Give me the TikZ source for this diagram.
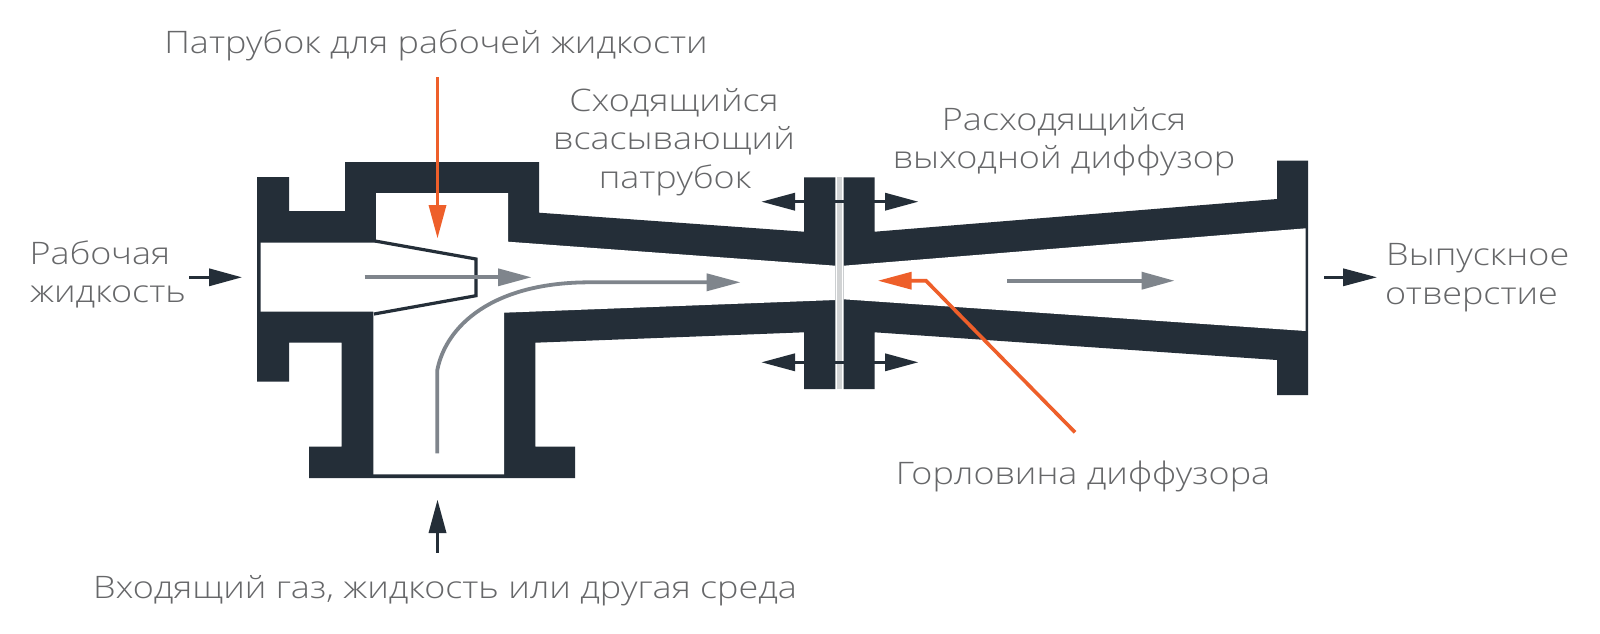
\documentclass[tikz,border=0pt]{standalone}
\usepackage{fontspec}
\setmainfont{Open Sans Light}[FakeStretch=1.16]
\definecolor{bodydark}{HTML}{242E38}
\definecolor{flowgray}{HTML}{7F858C}
\definecolor{accent}{HTML}{EE5F2A}
\definecolor{strip}{HTML}{D1D3D4}
\definecolor{labelgray}{HTML}{666769}
\tikzset{
  body/.style={fill=bodydark,draw=none},
  cavity/.style={fill=white,draw=none},
  lbl/.style={text=labelgray,inner sep=0pt,font=\fontsize{31}{38.5}\selectfont},
  flowline/.style={line width=#1,line cap=butt,line join=miter}
}
\newcommand{\arrowR}[5]{% x0,xbase,xtip,y,line width ; colour set by scope
  \draw[line width=#5] (#1,#4) -- (#2+1,#4);
  \fill (#2,#4-9) -- (#3,#4) -- (#2,#4+9) -- cycle;
}
\begin{document}
\begin{tikzpicture}[x=1pt,y=-1pt]
\useasboundingbox (0,0) rectangle (1600,633);
\fill[white] (0,0) rectangle (1600,633);

% left casing
\path[body] (257,177) -- (289,177) -- (289,211) -- (345,211) -- (345,162) -- (539,162) -- (539,212.7)
  -- (804,231.7) -- (804,177.3) -- (835.3,177.3) -- (835.3,389) -- (804,389) -- (804,332.3)
  -- (535.3,342.7) -- (535.3,446.7) -- (575,446.7) -- (575,478) -- (309,478) -- (309,446.7)
  -- (341.7,446.7) -- (341.7,342.7) -- (289,342.7) -- (289,381.7) -- (257,381.7) -- cycle;
\path[cavity] (260.7,242.7) -- (376,242.7) -- (376,193) -- (508,193) -- (508,241.7) -- (835.3,265.7)
  -- (835.3,300) -- (504,312.7) -- (504,474.3) -- (373.3,474.3) -- (373.3,311.7) -- (260.7,311.7) -- cycle;
\draw[bodydark,flowline=3.2pt] (375,241) -- (476,259) -- (476,295.7) -- (374,314);

% right casing
\path[body] (843.7,177.3) -- (874.7,177.3) -- (874.7,231.7) -- (1277,199) -- (1277,160.7) -- (1308,160.7)
  -- (1308,395) -- (1277,395) -- (1277,360) -- (874.7,332.3) -- (874.7,389) -- (843.7,389) -- cycle;
\path[cavity] (843.7,265.7) -- (1305.7,228.3) -- (1305.7,331) -- (843.7,299.3) -- cycle;

% gasket
\fill[strip] (837.3,177.3) rectangle (842,389);

% flange arrows
\begin{scope}[bodydark]
  \draw[line width=2.8pt] (795,201.7) -- (885,201.7);
  \fill (795,192.7) -- (761.7,201.7) -- (795,210.7) -- cycle;
  \fill (885,192.7) -- (918,201.7) -- (885,210.7) -- cycle;
  \draw[line width=2.8pt] (795,362.3) -- (885,362.3);
  \fill (795,353.3) -- (761.7,362.3) -- (795,371.3) -- cycle;
  \fill (885,353.3) -- (918,362.3) -- (885,371.3) -- cycle;
  \arrowR{189.3}{209}{241.7}{277.3}{3.4pt}
  \arrowR{1324}{1343}{1376.7}{277.3}{3.4pt}
  \draw[line width=3.4pt] (437.5,552.7) -- (437.5,532);
  \fill (428.5,533) -- (437.5,500) -- (446.5,533) -- cycle;
\end{scope}

% flow arrows
\begin{scope}[flowgray]
  \arrowR{364.7}{498}{531}{277.3}{3.8pt}
  \arrowR{1007.3}{1141.7}{1174}{280.7}{3.8pt}
  \draw[line width=3.8pt] (437.3,453.3) -- (437.3,370)
     .. controls (446,326) and (492,282.3) .. (590,282.3) -- (707.7,282.3);
  \fill (706.7,273.3) -- (740,282.3) -- (706.7,291.3) -- cycle;
\end{scope}

% orange leaders
\begin{scope}[accent]
  \draw[line width=3.6pt] (437.5,77) -- (437.5,206);
  \fill (428.5,205) -- (437.5,238) -- (446.5,205) -- cycle;
  \draw[line width=3.6pt,line join=miter] (1075,432.3) -- (926,280.7) -- (910.7,280.7);
  \fill (911.7,271.7) -- (878.3,280.7) -- (911.7,289.7) -- cycle;
\end{scope}

% labels
\node[lbl,anchor=base] (nozzle) at (436,53) {Патрубок для рабочей жидкости};
\node[lbl,anchor=base] (suc1) at (674,111) {Сходящийся};
\node[lbl,anchor=base] (suc2) at (674,149) {всасывающий};
\node[lbl,anchor=base] (suc3) at (675,188) {патрубок};
\node[lbl,anchor=base] (dif1) at (1064,130) {Расходящийся};
\node[lbl,anchor=base] (dif2) at (1064,168) {выходной диффузор};
\node[lbl,anchor=base west] (work1) at (29.5,264) {Рабочая};
\node[lbl,anchor=base west] (work2) at (30,302.7) {жидкость};
\node[lbl,anchor=base west] (out1) at (1386,265.7) {Выпускное};
\node[lbl,anchor=base west] (out2) at (1385,304) {отверстие};
\node[lbl,anchor=base] (throat) at (1083,484) {Горловина диффузора};
\node[lbl,anchor=base] (inlet) at (445,598) {Входящий газ, жидкость или другая среда};
\end{tikzpicture}
\end{document}
